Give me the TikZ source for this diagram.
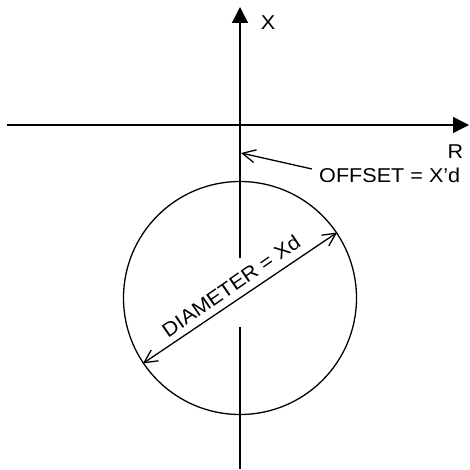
\documentclass[tikz,border=0pt]{standalone}
\usepackage{fontspec}
\setmainfont{Liberation Sans}
\usetikzlibrary{arrows.meta}
\begin{document}
\begin{tikzpicture}[x=1pt,y=-1pt,
  axis/.style={line width=1.4pt,-{Triangle[length=16pt,width=16pt]}},
  thin line/.style={line width=1.4pt},
  barb/.style={line width=1.3pt,-{Straight Barb[length=13pt,width=13pt,line width=1.3pt]}},
  dbarb/.style={line width=1.3pt,{Straight Barb[length=13pt,width=13pt,line width=1.3pt]}-{Straight Barb[length=13pt,width=13pt,line width=1.3pt]}},
  lbl/.style={inner sep=0pt,font=\fontsize{20}{24}\selectfont}]
\useasboundingbox (0,0) rectangle (469,470);
% axes
\coordinate (xl) at (7,125);
\coordinate (xr) at (469,125);
\coordinate (yt) at (240,7);
\coordinate (yb) at (240,469);
\coordinate (g1) at (240,258);
\coordinate (g2) at (240,327);
\draw[axis] (xl) -- (xr);
\draw[thin line] (yb) -- (g2);
\draw[axis] (g1) -- (yt);
\node[lbl] (X) at (268,23) {\scalebox{1.08}[1]{X}};
\node[lbl] (R) at (455.5,152) {\scalebox{1.08}[1]{R}};
% circle
\node[circle,draw,line width=1.3pt,minimum size=233pt,inner sep=0pt] (circ) at (240,298) {};
\draw[dbarb] (circ.214.7) -- (circ.34.7);
\node[lbl,rotate=34.7] (dia) at (231,286) {\scalebox{1.08}[1]{DIAMETER = Xd}};
% offset
\coordinate (otip) at (241,153);
\node[lbl,anchor=base west] (off) at (319,182.5) {\scalebox{1.08}[1]{OFFSET = X’d}};
\coordinate (otail) at (312,169);
\draw[barb] (otail) -- (otip);
\end{tikzpicture}
\end{document}
